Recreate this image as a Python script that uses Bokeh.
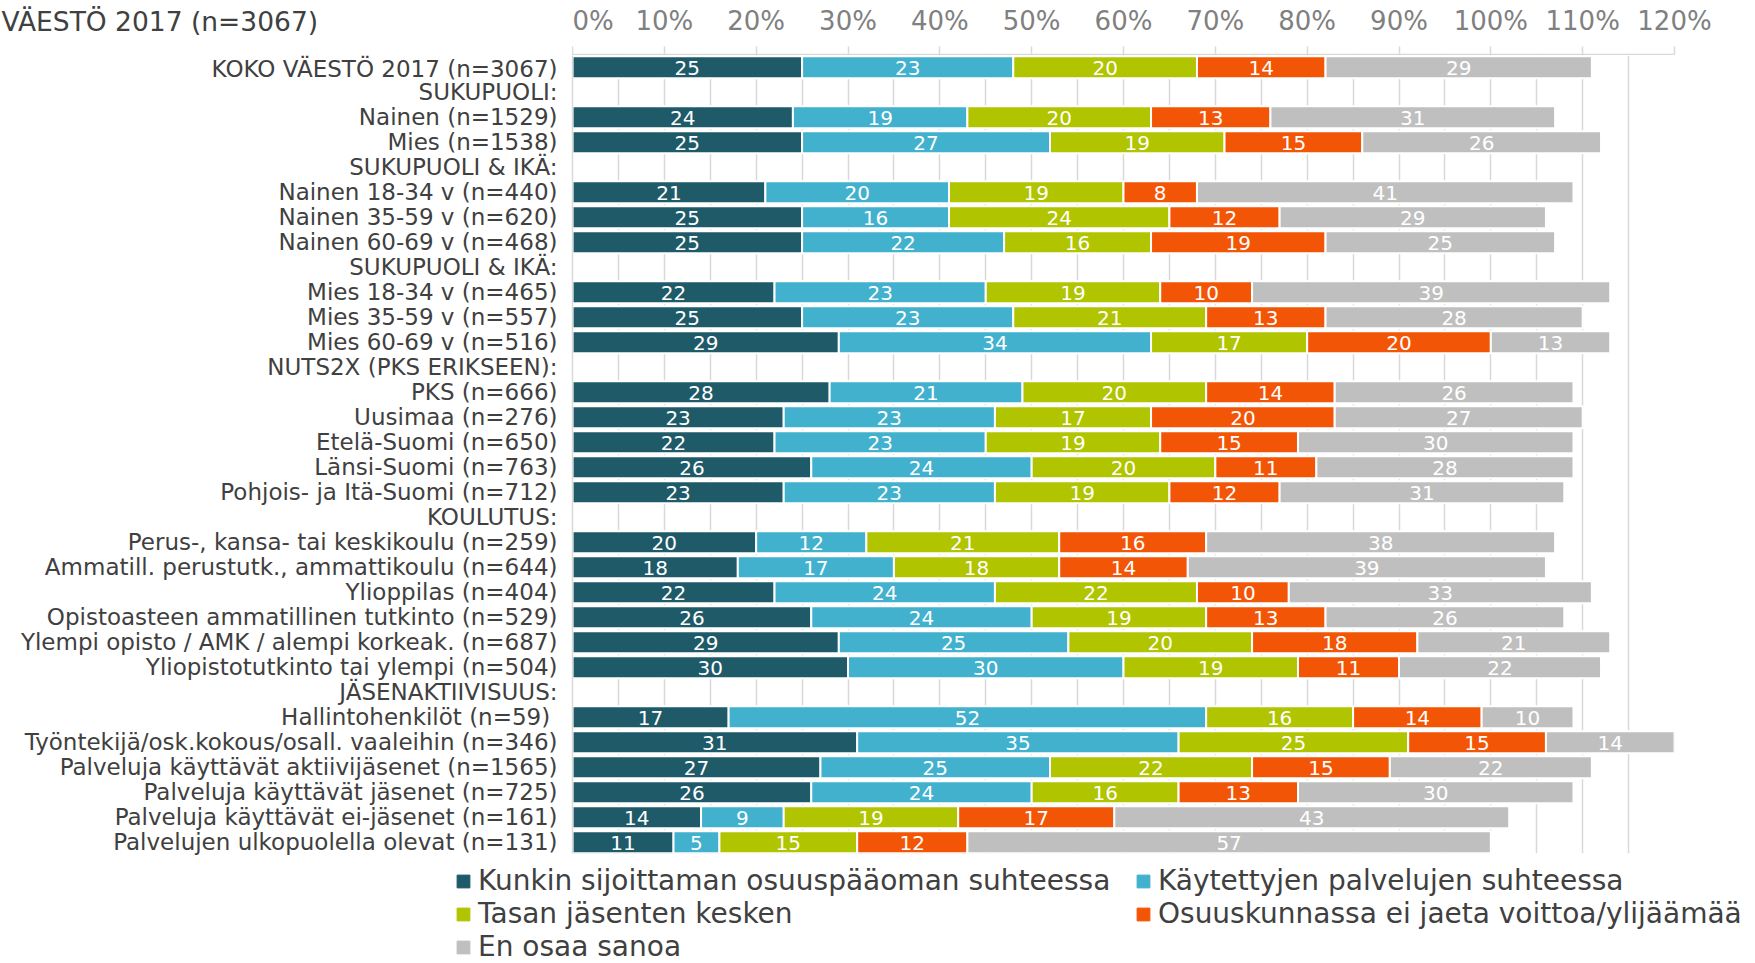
from bokeh.plotting import figure
from bokeh.layouts import column, row
from bokeh.models import (ColumnDataSource, Range1d, FixedTicker, PrintfTickFormatter,
                          Legend, LegendItem, Label, Grid)
from bokeh.core.properties import value
from bokeh.embed import file_html
from bokeh.resources import INLINE

FONT = "DejaVu Sans"

title_text = "VÄESTÖ 2017 (n=3067)"

categories = [
    "KOKO VÄESTÖ 2017 (n=3067)",
    "SUKUPUOLI:",
    "Nainen (n=1529)",
    "Mies (n=1538)",
    "SUKUPUOLI & IKÄ:",
    "Nainen 18-34 v (n=440)",
    "Nainen 35-59 v (n=620)",
    "Nainen 60-69 v (n=468)",
    "SUKUPUOLI & IKÄ:",
    "Mies 18-34 v (n=465)",
    "Mies 35-59 v (n=557)",
    "Mies 60-69 v (n=516)",
    "NUTS2X (PKS ERIKSEEN):",
    "PKS (n=666)",
    "Uusimaa (n=276)",
    "Etelä-Suomi (n=650)",
    "Länsi-Suomi (n=763)",
    "Pohjois- ja Itä-Suomi (n=712)",
    "KOULUTUS:",
    "Perus-, kansa- tai keskikoulu (n=259)",
    "Ammatill. perustutk., ammattikoulu (n=644)",
    "Ylioppilas (n=404)",
    "Opistoasteen ammatillinen tutkinto (n=529)",
    "Ylempi opisto / AMK / alempi korkeak. (n=687)",
    "Yliopistotutkinto tai ylempi (n=504)",
    "JÄSENAKTIIVISUUS:",
    "Hallintohenkilöt  (n=59)",
    "Työntekijä/osk.kokous/osall. vaaleihin (n=346)",
    "Palveluja käyttävät aktiivijäsenet (n=1565)",
    "Palveluja käyttävät jäsenet (n=725)",
    "Palveluja käyttävät ei-jäsenet (n=161)",
    "Palvelujen ulkopuolella olevat (n=131)",
]

series_names = [
    "Kunkin sijoittaman osuuspääoman suhteessa",
    "Käytettyjen palvelujen suhteessa",
    "Tasan jäsenten kesken",
    "Osuuskunnassa ei jaeta voittoa/ylijäämää",
    "En osaa sanoa",
]
colors = ["#1F5A69", "#41B1CE", "#B0C400", "#F35506", "#BFBFBF"]

kunkin = [25, None, 24, 25, None, 21, 25, 25, None, 22, 25, 29, None, 28, 23, 22, 26, 23,
          None, 20, 18, 22, 26, 29, 30, None, 17, 31, 27, 26, 14, 11]
kaytettyjen = [23, None, 19, 27, None, 20, 16, 22, None, 23, 23, 34, None, 21, 23, 23, 24, 23,
               None, 12, 17, 24, 24, 25, 30, None, 52, 35, 25, 24, 9, 5]
tasan = [20, None, 20, 19, None, 19, 24, 16, None, 19, 21, 17, None, 20, 17, 19, 20, 19,
         None, 21, 18, 22, 19, 20, 19, None, 16, 25, 22, 16, 19, 15]
osuus = [14, None, 13, 15, None, 8, 12, 19, None, 10, 13, 20, None, 14, 20, 15, 11, 12,
         None, 16, 14, 10, 13, 18, 11, None, 14, 15, 15, 13, 17, 12]
en_osaa = [29, None, 31, 26, None, 41, 29, 25, None, 39, 28, 13, None, 26, 27, 30, 28, 31,
           None, 38, 39, 33, 26, 21, 22, None, 10, 14, 22, 30, 43, 57]

x_ticks = [0, 10, 20, 30, 40, 50, 60, 70, 80, 90, 100, 110, 120]
grid_ticks = [5, 10, 15, 20, 25, 30, 35, 40, 45, 50, 55, 60, 65, 70, 75, 80, 85, 90, 95,
              100, 105, 110, 115]

series = [kunkin, kaytettyjen, tasan, osuus, en_osaa]
keys = ["s0", "s1", "s2", "s3", "s4"]

rows = list(range(1, len(categories) + 1))
data_idx = [i for i in range(len(categories)) if kunkin[i] is not None]

bar_data = {"y": [rows[i] for i in data_idx]}
for k, s in zip(keys, series):
    bar_data[k] = [s[i] for i in data_idx]
bar_src = ColumnDataSource(bar_data)

lx, ly, lt = [], [], []
for i in data_idx:
    cum = 0
    for s in series:
        v = s[i]
        lx.append(cum + v / 2)
        ly.append(rows[i])
        lt.append(str(v))
        cum += v
lab_src = ColumnDataSource(dict(x=lx, y=ly, t=lt))

W = 1755
LEFT = 572
FW = 1102
RIGHT = W - LEFT - FW
TOP_H = 55
MAIN_H = 800
LEG_H = 963 - TOP_H - MAIN_H

x_range = Range1d(0, 120)

# ---- title (top-left) ----
tfig = figure(width=LEFT, height=TOP_H, output_backend="svg", toolbar_location=None,
              x_axis_type=None, y_axis_type=None, x_range=Range1d(0, 1), y_range=Range1d(0, 1),
              min_border_left=0, min_border_right=0, min_border_top=0, min_border_bottom=0,
              frame_align=False)
tfig.outline_line_color = None
tfig.grid.visible = False
tfig.add_layout(Label(x=1, y=TOP_H - 21, x_units="screen", y_units="screen",
                      text=title_text, text_font=FONT, text_font_size="26.5px",
                      text_color="#404040", text_baseline="middle"))

# ---- percentage axis (top) ----
hfig = figure(width=W - LEFT, height=TOP_H, output_backend="svg", toolbar_location=None,
              x_range=x_range, y_range=Range1d(0, 1), x_axis_location="above",
              y_axis_type=None,
              min_border_left=0, min_border_right=RIGHT, min_border_top=TOP_H - 1,
              min_border_bottom=0, frame_align=False)
hfig.outline_line_color = None
hfig.grid.visible = False
xa = hfig.xaxis[0]
xa.ticker = FixedTicker(ticks=x_ticks)
xa.formatter = PrintfTickFormatter(format="%d%%")
xa.axis_line_color = "#D9D9D9"
xa.axis_line_width = 1.5
xa.major_tick_line_color = "#D9D9D9"
xa.major_tick_line_width = 1.5
xa.major_tick_out = 8
xa.major_tick_in = 0
xa.minor_tick_line_color = None
xa.major_label_text_font = FONT
xa.major_label_text_font_size = "26px"
xa.major_label_text_color = "#808080"
xa.major_label_standoff = 11

# ---- main bars ----
p = figure(width=W, height=MAIN_H, output_backend="svg", toolbar_location=None,
           x_range=x_range, y_range=Range1d(32.45, 0.53), x_axis_type=None,
           min_border_left=LEFT, min_border_right=RIGHT,
           min_border_top=0, min_border_bottom=2, frame_align=False)
p.outline_line_color = None
p.add_layout(Grid(dimension=0, ticker=FixedTicker(ticks=grid_ticks),
                  grid_line_color="#D9D9D9", grid_line_width=1.5))

renderers = p.hbar_stack(keys, y="y", height=0.88, source=bar_src,
                         fill_color=colors, line_color="white", line_width=2)

p.text(x="x", y="y", text="t", source=lab_src, text_color="white",
       text_font=value(FONT), text_font_size="20px", text_align="center",
       text_baseline="middle", y_offset=1)

ya = p.yaxis[0]
ya.ticker = FixedTicker(ticks=rows)
ya.major_label_overrides = {r: c for r, c in zip(rows, categories)}
ya.axis_line_color = "#D9D9D9"
ya.axis_line_width = 1.5
ya.major_tick_line_color = None
ya.major_tick_out = 0
ya.major_tick_in = 0
ya.minor_tick_line_color = None
ya.major_label_text_font = FONT
ya.major_label_text_font_size = "23px"
ya.major_label_text_color = "#404040"
ya.major_label_standoff = 15
p.ygrid.visible = False

# ---- legend ----
lfig = figure(width=W, height=LEG_H, output_backend="svg", toolbar_location=None,
              x_axis_type=None, y_axis_type=None, x_range=Range1d(0, 1), y_range=Range1d(0, 1),
              min_border_left=0, min_border_right=0, min_border_top=0, min_border_bottom=0,
              frame_align=False)
lfig.outline_line_color = None
lfig.grid.visible = False
# swatch renderers for the legend (kept outside the visible range)
swatches = [lfig.hbar(y=[-10], left=[0], right=[0.1], height=0.5, fill_color=c,
                      line_color=c, line_width=1) for c in colors]


def make_legend(idx, loc):
    items = [LegendItem(label=series_names[i], renderers=[swatches[i]]) for i in idx]
    return Legend(items=items, location=loc, orientation="vertical",
                  label_text_font=FONT, label_text_font_size="28px",
                  label_text_color="#404040", glyph_width=16, glyph_height=16,
                  label_height=33, label_standoff=7, spacing=0, padding=0, margin=0,
                  border_line_color=None, background_fill_alpha=0)


lfig.add_layout(make_legend([0, 2, 4], (455, 0)))
lfig.add_layout(make_legend([1, 3], (1135, 33)))

layout = column(row(tfig, hfig), p, lfig)
open("out.html", "w").write(file_html(layout, INLINE))
